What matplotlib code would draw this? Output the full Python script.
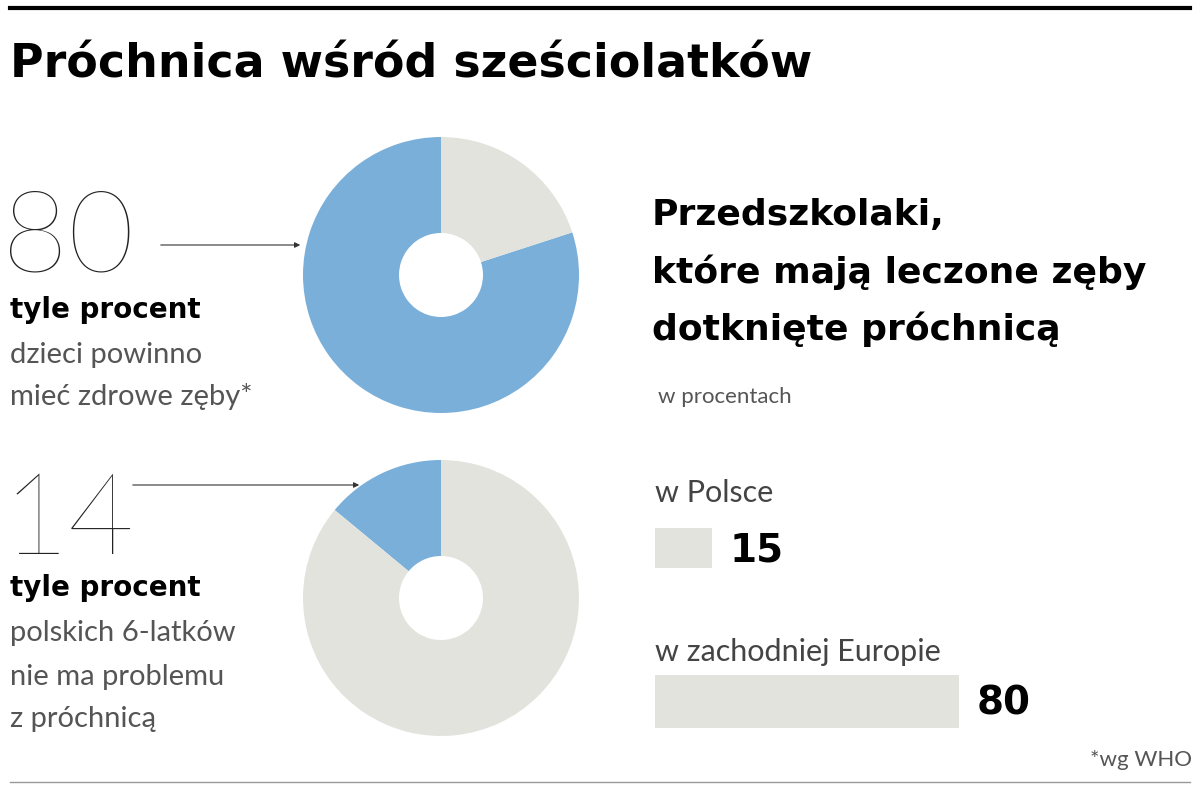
import matplotlib
matplotlib.use("Agg")
import matplotlib.pyplot as plt
from matplotlib.patches import Rectangle

healthy_target = [80, 20]      # % dzieci powinno mieć zdrowe zęby
healthy_poland = [14, 86]      # % polskich 6-latków bez próchnicy
bar_labels = ["w Polsce", "w zachodniej Europie"]
bar_values = [15, 80]

BLUE = "#7aafd9"
GRAY = "#e3e3de"
H = 790
COND = ["DejaVu Sans Condensed", "DejaVu Sans"]
LIGHT = ["Lato", "DejaVu Sans"]

fig = plt.figure(figsize=(12, 7.9), dpi=100)
ax = fig.add_axes([0, 0, 1, 1])
ax.set_xlim(0, 1200); ax.set_ylim(0, H); ax.axis("off")
ax.set_aspect("equal")

def Y(y): return H - y

ax.plot([10, 1190], [Y(8)]*2, color="black", lw=3)
ax.plot([10, 1190], [Y(782)]*2, color="#999999", lw=1)
ax.text(10, Y(65), "Próchnica wśród sześciolatków", fontsize=33, fontweight="bold",
        family=COND, va="center")

ax.pie(healthy_target, colors=[BLUE, GRAY], startangle=90, counterclock=True,
       center=(441, Y(275)), radius=138, wedgeprops=dict(width=96, linewidth=0),
       frame=True)
ax.pie(healthy_poland, colors=[BLUE, GRAY], startangle=90, counterclock=True,
       center=(441, Y(598)), radius=138, wedgeprops=dict(width=96, linewidth=0),
       frame=True)
ax.set_xlim(0, 1200); ax.set_ylim(0, H); ax.axis("off")

ax.text(2, Y(240), str(healthy_target[0]), fontsize=82, family=LIGHT, fontweight="light",
        va="center", color="#222")
ax.annotate("", xy=(303, Y(245)), xytext=(158, Y(245)),
            arrowprops=dict(arrowstyle="-|>", color="#333", lw=0.8, mutation_scale=8))
ax.text(10, Y(310), "tyle procent", fontsize=20, fontweight="bold", family=COND, va="center")
ax.text(10, Y(355), "dzieci powinno", fontsize=21, family=LIGHT, va="center", color="#555")
ax.text(10, Y(397), "mieć zdrowe zęby*", fontsize=21, family=LIGHT, va="center", color="#555")

ax.text(2, Y(523), str(healthy_poland[0]), fontsize=82, family=LIGHT, fontweight="light",
        va="center", color="#222")
ax.annotate("", xy=(362, Y(485)), xytext=(130, Y(485)),
            arrowprops=dict(arrowstyle="-|>", color="#333", lw=0.8, mutation_scale=8))
ax.text(10, Y(588), "tyle procent", fontsize=20, fontweight="bold", family=COND, va="center")
ax.text(10, Y(633), "polskich 6-latków", fontsize=21, family=LIGHT, va="center", color="#555")
ax.text(10, Y(677), "nie ma problemu", fontsize=21, family=LIGHT, va="center", color="#555")
ax.text(10, Y(719), "z próchnicą", fontsize=21, family=LIGHT, va="center", color="#555")

for i, line in enumerate(["Przedszkolaki,", "które mają leczone zęby", "dotknięte próchnicą"]):
    ax.text(652, Y(215 + 57*i), line, fontsize=26, fontweight="bold", family=COND, va="center")
ax.text(658, Y(397), "w procentach", fontsize=16, family=LIGHT, va="center", color="#555")

scale = 3.8
label_y = [493, 652]
bar_top = [528, 675]
bar_h = [40, 53]
for lab, v, ly, bt, bh in zip(bar_labels, bar_values, label_y, bar_top, bar_h):
    ax.text(655, Y(ly), lab, fontsize=22, family=LIGHT, va="center", color="#444")
    ax.add_patch(Rectangle((655, Y(bt + bh)), v*scale, bh, color=GRAY, lw=0))
    ax.text(655 + v*scale + 18, Y(bt + bh/2 + 2), str(v), fontsize=28, fontweight="bold",
            family=COND, va="center")

ax.text(1192, Y(760), "*wg WHO", fontsize=16, family=LIGHT, va="center", ha="right", color="#555")

fig.savefig("out.png", dpi=100)
